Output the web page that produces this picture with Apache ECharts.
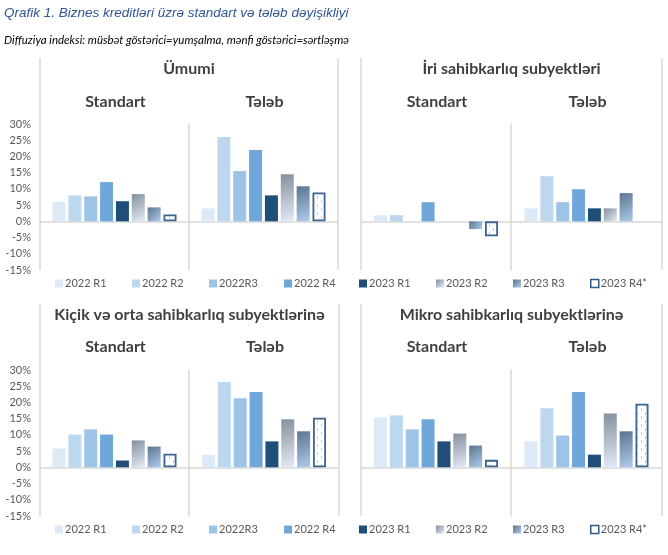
<!DOCTYPE html>
<html>
<head>
<meta charset="utf-8">
<script src="https://cdn.jsdelivr.net/npm/echarts@6/dist/echarts.min.js"></script>
<style>
html,body{margin:0;padding:0;background:#fff;}
#c{width:668px;height:555px;}
</style>
</head>
<body>
<div id="c"></div>
<script>
// ---- data ----
const periods = ['2022 R1','2022 R2','2022R3','2022 R4','2023 R1','2023 R2','2023 R3','2023 R4*'];
const yTicks = [-15,-10,-5,0,5,10,15,20,25,30];
const umumiStandart = [6.0, 8.0, 7.7, 12.1, 6.2, 8.4, 4.3, 2.1];
const umumiTeleb    = [4.0, 26.0, 15.5, 22.0, 8.0, 14.5, 10.8, 8.9];
const iriStandart   = [1.9, 1.9, 0, 5.9, 0, 0, -2.4, -4.6];
const iriTeleb      = [4.0, 13.9, 5.9, 9.9, 4.0, 4.0, 8.7, null];
const kosStandart   = [5.8, 10.1, 11.7, 10.1, 2.1, 8.3, 6.4, 4.2];
const kosTeleb      = [3.9, 26.3, 21.3, 23.2, 8.0, 14.8, 11.1, 15.3];
const mikroStandart = [15.4, 16.0, 11.7, 14.8, 8.0, 10.4, 6.7, 2.3];
const mikroTeleb    = [8.0, 18.2, 9.8, 23.2, 3.9, 16.6, 11.1, 19.6];
const panelTitles = ['Ümumi','İri sahibkarlıq subyektləri','Kiçik və orta sahibkarlıq subyektlərinə','Mikro sahibkarlıq subyektlərinə'];
const subTitles = ['Standart','Tələb'];

// ---- styles ----
const pat = document.createElement('canvas');
pat.width = 8; pat.height = 8;
(function(){
  const g = pat.getContext('2d');
  g.fillStyle = '#ffffff'; g.fillRect(0,0,8,8);
  g.fillStyle = '#cfcfcf';
  g.fillRect(1,0,1,3);
  g.fillRect(5,4,1,3);
})();
const grad = (a,b) => new echarts.graphic.LinearGradient(0,0,1,1,[{offset:0,color:a},{offset:1,color:b}]);
const seriesStyles = [
  {color:'#dde9f6'},
  {color:'#bdd7ee'},
  {color:'#9dc3e6'},
  {color:'#6fa7db'},
  {color:'#1f4e79'},
  {color:grad('#85909e','#e2ebf6')},
  {color:grad('#5c7490','#adcbea')},
  {color:{image:pat, repeat:'repeat'}, borderColor:'#3a6491', borderWidth:1.8}
];

const FONT = 'Lato, "Noto Sans", sans-serif';
const panelData = [
  [umumiStandart, umumiTeleb],
  [iriStandart, iriTeleb],
  [kosStandart, kosTeleb],
  [mikroStandart, mikroTeleb]
];
// layout
const panelX = [[40,189,338],[361,511,662],[40,189,339],[361,511,662]];
const panelTop = [124,124,370,370];
const gridH = 146;
const titleY = [69,69,315,315];
const subY = [102,102,347,347];
const borderTop = [58,58,304,304];

const grids = [], xAxes = [], yAxes = [], series = [], graphics = [];
let gi = 0;
panelData.forEach((pd, p) => {
  const xs = panelX[p];
  for (let s = 0; s < 2; s++) {
    grids.push({left: xs[s], top: panelTop[p], width: xs[s+1]-xs[s], height: gridH});
    xAxes.push({
      type:'category', gridIndex: gi, data:[''],
      axisLine:{show:true, onZero:true, lineStyle:{color:'#d9d9d9', width:1.5}},
      axisTick:{show:false}, axisLabel:{show:false}
    });
    const showLabels = (s === 0 && (p === 0 || p === 2));
    yAxes.push({
      type:'value', gridIndex: gi, min: yTicks[0], max: yTicks[yTicks.length-1], interval: 5,
      axisLine:{show: s === 1, lineStyle:{color:'#d9d9d9', width:1.5}},
      axisTick:{show:false},
      splitLine:{show:false},
      axisLabel:{show: showLabels, formatter: v => v + '%', color:'#595959', fontSize:11, fontFamily:FONT, margin:9}
    });
    periods.forEach((name, k) => {
      series.push({
        type:'bar', name, xAxisIndex: gi, yAxisIndex: gi,
        data:[pd[s][k]], barWidth: 13, barGap:'22%',
        itemStyle: seriesStyles[k], emphasis:{disabled:true}, animation:false
      });
    });
    graphics.push({type:'text', x:(xs[s]+xs[s+1])/2 + 1, y:subY[p],
      style:{text:subTitles[s], font:'bold 16px ' + FONT, fill:'#404040', align:'center', verticalAlign:'middle'}});
    gi++;
  }
  graphics.push({type:'text', x:(xs[0]+xs[2])/2, y:titleY[p],
    style:{text:panelTitles[p], font:'bold 16px ' + FONT, fill:'#404040', align:'center', verticalAlign:'middle'}});
  graphics.push({type:'line', shape:{x1:xs[0], y1:borderTop[p], x2:xs[0], y2:panelTop[p]+gridH}, style:{stroke:'#d9d9d9', lineWidth:1.5}});
  graphics.push({type:'line', shape:{x1:xs[2], y1:borderTop[p], x2:xs[2], y2:panelTop[p]+gridH}, style:{stroke:'#d9d9d9', lineWidth:1.5}});
});

graphics.push({type:'text', x:4, y:13, style:{text:'Qrafik 1. Biznes kreditləri üzrə standart və tələb dəyişikliyi',
  font:'italic 13.5px "Liberation Sans", Arial, sans-serif', fill:'#2f5597', align:'left', verticalAlign:'middle'}});
graphics.push({type:'text', x:4, y:40, style:{text:'Diffuziya indeksi: müsbət göstərici=yumşalma, mənfi göstərici=sərtləşmə',
  font:'italic 11.5px ' + FONT, fill:'#000000', align:'left', verticalAlign:'middle'}});

// legends: one per item, two rows
const legendX = [55,132,209,284,359,436,513,590];
const legends = [];
[285, 531].forEach(yc => {
  periods.forEach((name, k) => {
    const item = (k === 7) ? {name, itemStyle:{color:'#ffffff', borderColor:'#2e5c8a', borderWidth:1.5}} : name;
    legends.push({
      data:[item], left: legendX[k], top: yc - 7, padding:0, itemWidth:8, itemHeight:8, icon:'rect',
      textStyle:{color:'#595959', fontSize:11, fontFamily:FONT, padding:[0,0,0,-3]}
    });
  });
});

const chart = echarts.init(document.getElementById('c'), null, {renderer:'canvas'});
chart.setOption({
  animation:false,
  backgroundColor:'#ffffff',
  grid: grids, xAxis: xAxes, yAxis: yAxes, series,
  legend: legends,
  graphic: graphics
});
</script>
</body>
</html>
